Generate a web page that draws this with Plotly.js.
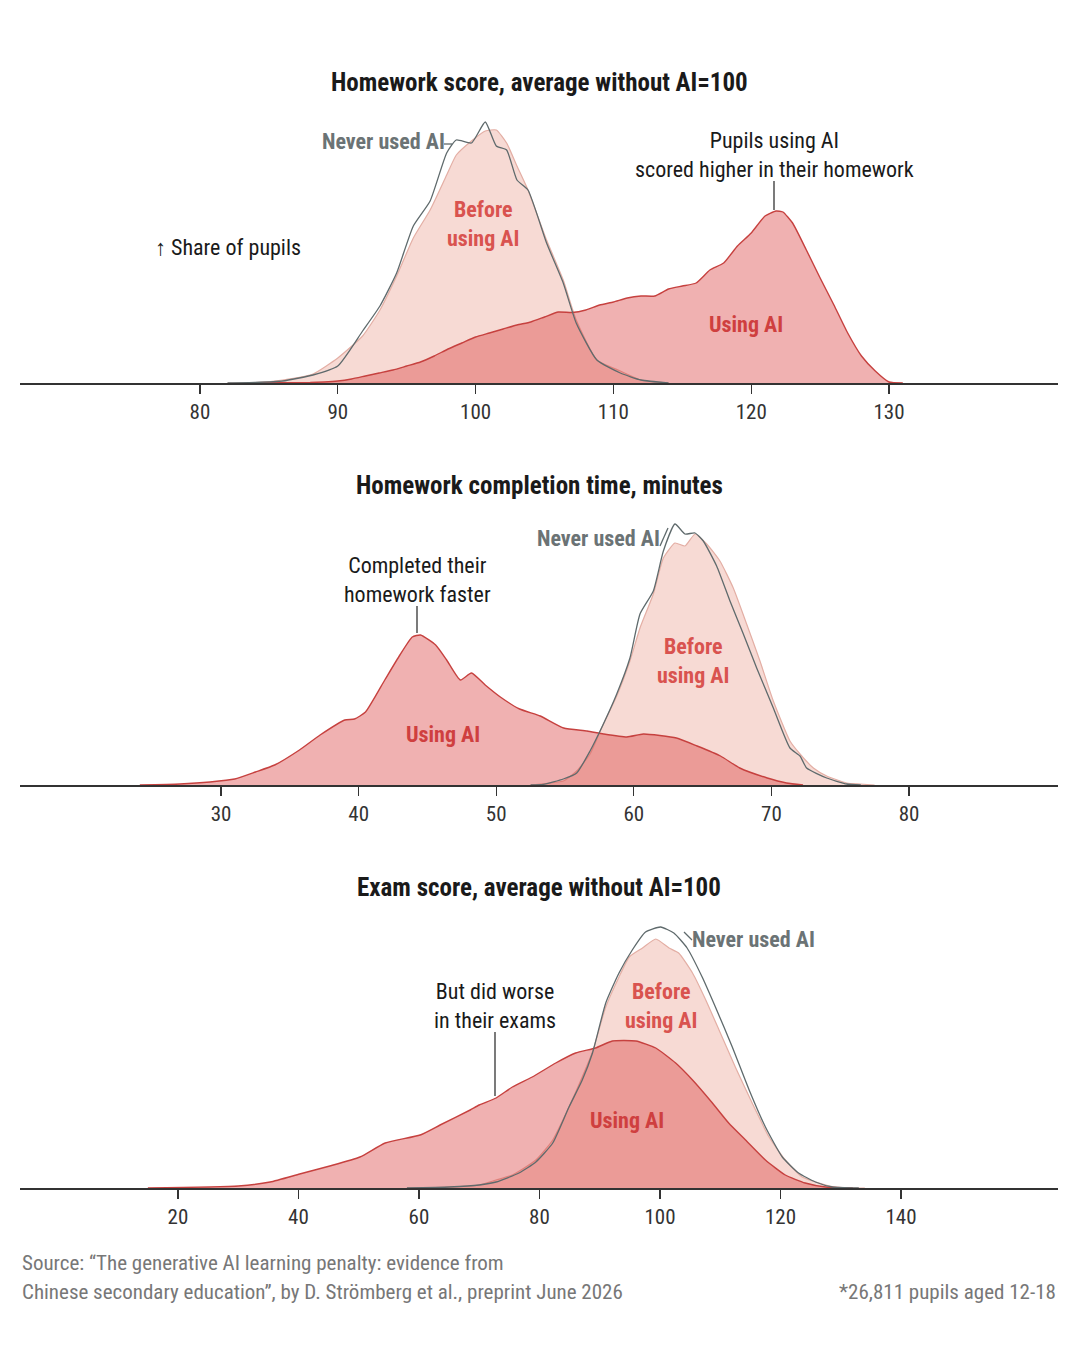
<!DOCTYPE html>
<html>
<head>
<meta charset="utf-8">
<script src="https://cdn.plot.ly/plotly-3.0.1.min.js"></script>
<style>html,body{margin:0;padding:0;background:#fff}#c{width:1080px;height:1350px}</style>
</head>
<body>
<div id="c"></div>
<script>
// Panel 1: Homework score
const hwUsingX  = [84,88,89,90,91,92,93,94,95,96,97,98,99,100,101,102,103,104,105,106,107,108,109,110,111,112,113,114,115,116,117,118,119,120,121,121.8,122.3,123,124,125,126,127,128,129,130,131];
const hwUsingY  = [0,0.5,1,2,4,7,10,13,17,21,27,34,40,46,50,54,58,61,66,71,70.5,73,78,81,85,87,87,94,97,100,113,120,137,150,167,172,171,160,133,105,78,50,27,12,1,0];
const hwBeforeX = [82,84,86,88.2,90,91.8,93.06,94.27,95.48,96.7,97.9,98.6,99.7,100.7,101.5,102.25,103,103.8,105.15,106.36,107.3,108.8,110.5,112,114];
const hwBeforeY = [0,0.5,3,9,25,47,73,107,145,173,208,228,242,252,253,240,217,193,143,103,63,23,12,3,0];
const hwNeverX  = [82,84,86,88.2,90,91.8,93.06,94.27,95.48,96.7,97.9,98.6,99.7,100.7,101.5,102.25,103,103.8,105.15,106.36,107.3,108.8,110.5,112,114];
const hwNeverY  = [0,0.5,2,8,17,52,77,110,157,182,230,243,240,261,237,233,203,193,140,100,60,23,10,3,0];
// Panel 2: Completion time
const tmUsingX  = [24.1,27,29.2,31,32.5,33.9,35.7,37.2,39,39.7,40.5,41.9,43,43.9,44.5,45.6,46.4,47.4,48.2,49.2,50.3,51.7,53.2,54.9,56.6,57.8,59.5,60.7,63.1,64.6,66.3,67.7,69.7,71.1,72.3];
const tmUsingY  = [0,1,3,6,13,20,35,50,65,66,73,105,130,148,150,140,125,105,112,100,88,76,69,57,54,51,48,51,47,39,29,17,7,2,0];
const tmBeforeX = [52.5,53.91,54.88,55.85,56.82,57.79,58.76,59.72,60.45,61.42,62.15,62.99,63.72,64.45,65.3,66.26,67.23,68.2,69.17,70.14,71.35,72.08,73.05,74.02,75.47,76.44,77.5];
const tmBeforeY = [0,2,4,14,31,61,89,124,157,191,227,242,239,251,241,224,197,161,124,84,44,31,17,9,2,1,0];
const tmNeverX  = [52.5,53.43,54.88,55.85,56.82,57.79,58.76,59.72,60.45,61.42,62.15,62.99,63.72,64.45,65.05,66.02,66.99,67.96,68.93,70.14,71.35,72.08,72.56,74.02,75.47,76.5];
const tmNeverY  = [0,0.7,6,12,34,61,91,127,171,194,234,261,251,252,244,219,184,151,117,77,37,29,17,7,1,0];
// Panel 3: Exam score
const exUsingX  = [15,30,35.3,40.2,45.2,50.2,54.4,60.2,63.5,68.5,70,72.8,75.5,78.8,82.7,86,89.3,92.1,96,99.3,102.6,105.4,108.7,111.4,114.2,117.5,120.8,124.1,127.5,132];
const exUsingY  = [0,2,6,14,22,31,45,53,63,78,83,90,101,111,125,135,140,147,147,140,125,108,85,65,48,28,13,5,1,0];
const exBeforeX = [58,65,70,72.8,75.5,79.4,82.2,84.9,87.1,88.8,91,93.2,94.9,97.1,99.3,101.5,103.1,105.4,107.6,109.8,112.5,115.3,118.1,120.8,123.6,126.4,129.1,134];
const exBeforeY = [0,1,3,8,13,28,48,81,111,136,181,211,231,240,249,240,235,215,188,158,121,85,51,28,11,5,1,0];
const exNeverX  = [58,65,70,72.8,76.6,79.4,82.2,84.9,87.1,88.8,91,93.2,95.4,97.6,100.1,102.3,104.5,107,109.2,112,114.8,117.5,120.3,123,125.8,128.6,133];
const exNeverY  = [0,1,3,6,15,26,45,81,108,135,185,215,238,256,261,255,240,211,181,141,98,61,31,15,6,1,0];
// Tick labels
const hwTicks = [80,90,100,110,120,130];
const tmTicks = [30,40,50,60,70,80];
const exTicks = [20,40,60,80,100,120,140];

const W=1080,H=1350;
const FONT='"Liberation Sans Narrow","Roboto Condensed",Roboto,sans-serif';
const px=v=>v/W, py=v=>1-v/H;

function series(x,y,xa,ya,fill,line,lw){
  return {x,y,xaxis:xa,yaxis:ya,type:'scatter',mode:'lines',
    line:{color:line,width:lw,shape:'spline',smoothing:0.5},
    fill:fill?'tozeroy':'none',fillcolor:fill||undefined,hoverinfo:'skip',showlegend:false};
}
const BEFORE_F='#F7DAD4',BEFORE_L='#E3AEA4',USING_F='rgba(217,60,60,0.4)',USING_L='#C6413F',NEVER_L='#5F6A6C';
function panel(n,b,u,nv){
  const xa='x'+(n>1?n:''), ya='y'+(n>1?n:'');
  return [series(b[0],b[1],xa,ya,BEFORE_F,BEFORE_L,1.2),
          series(u[0],u[1],xa,ya,USING_F,USING_L,1.4),
          series(nv[0],nv[1],xa,ya,null,NEVER_L,1.3)];
}
const data=[
  ...panel(1,[hwBeforeX,hwBeforeY],[hwUsingX,hwUsingY],[hwNeverX,hwNeverY]),
  ...panel(2,[tmBeforeX,tmBeforeY],[tmUsingX,tmUsingY],[tmNeverX,tmNeverY]),
  ...panel(3,[exBeforeX,exBeforeY],[exUsingX,exUsingY],[exNeverX,exNeverY])
];
function xax(range,ticks,anchor){
  return {domain:[px(20),px(1058)],range,anchor,tickmode:'array',tickvals:ticks,ticktext:ticks.map(String),
    ticks:'outside',ticklen:9,tickwidth:1.3,tickcolor:'#333',showline:true,linecolor:'#333',linewidth:1.5,
    showgrid:false,zeroline:false,tickfont:{family:FONT,size:21,color:'#333'},fixedrange:true};
}
function yax(bottom,anchor){
  return {domain:[py(bottom),py(bottom-300)],range:[0,300],anchor,visible:false,fixedrange:true};
}
function note(text,x,y,size,color,anchor,bold){
  return {text:bold?'<b>'+text+'</b>':text,xref:'paper',yref:'paper',x:px(x),y:py(y),xanchor:anchor||'center',yanchor:'middle',
    showarrow:false,align:anchor||'center',font:{family:FONT,size,color}};
}
const RED='#D9534F',GREY='#6B7375',DARK='#1a1a1a';
const annotations=[
  note('Homework score, average without AI=100',539,83,25,DARK,'center',true),
  note('Homework completion time, minutes',539,485,25,DARK,'center',true),
  note('Exam score, average without AI=100',539,887,25,DARK,'center',true),
  note('↑ Share of pupils',153,247,22,DARK,'left'),
  note('Never used AI',383,142,22,GREY,'center',true),
  note('Before<br>using AI',483,224,22,RED,'center',true),
  note('Using AI',746,325,22,'#CF3F3F','center',true),
  note('Pupils using AI<br>scored higher in their homework',774,155,22,DARK,'center'),
  note('Never used AI',598,538,22,GREY,'center',true),
  note('Before<br>using AI',693,661,22,RED,'center',true),
  note('Using AI',443,735,22,'#CF3F3F','center',true),
  note('Completed their<br>homework faster',417,580,22,DARK,'center'),
  note('Never used AI',753,939,22,GREY,'center',true),
  note('Before<br>using AI',661,1006,22,RED,'center',true),
  note('Using AI',627,1120,22,'#CF3F3F','center',true),
  note('But did worse<br>in their exams',495,1006,22,DARK,'center'),
  note('Source: “The generative AI learning penalty: evidence from',20,1263,21,'#777','left'),
  note('Chinese secondary education”, by D. Strömberg et al., preprint June 2026',20,1292,21,'#777','left'),
  note('*26,811 pupils aged 12-18',1058,1292,21,'#777','right')
];
function seg(x0,y0,x1,y1,color){
  return {type:'line',xref:'paper',yref:'paper',x0:px(x0),y0:py(y0),x1:px(x1),y1:py(y1),line:{color,width:1.3}};
}
const shapes=[
  seg(774,181,774,210,'#333'),
  seg(417,606,417,633,'#333'),
  seg(495,1032,495,1096,'#333'),
  seg(444,144,452,144,NEVER_L),
  seg(660,546,668,528,NEVER_L),
  seg(692,940,684,932,NEVER_L)
];
const layout={width:W,height:H,margin:{l:0,r:0,t:0,b:0},paper_bgcolor:'#fff',plot_bgcolor:'rgba(0,0,0,0)',showlegend:false,
  xaxis:xax([66.94,142.26],hwTicks,'y'),yaxis:yax(383,'x'),
  xaxis2:xax([15.39,90.83],tmTicks,'y2'),yaxis2:yax(785,'x2'),
  xaxis3:xax([-6.22,166.06],exTicks,'y3'),yaxis3:yax(1188,'x3'),
  annotations,shapes};
Plotly.newPlot('c',data,layout,{displayModeBar:false,staticPlot:true});
</script>
</body>
</html>
